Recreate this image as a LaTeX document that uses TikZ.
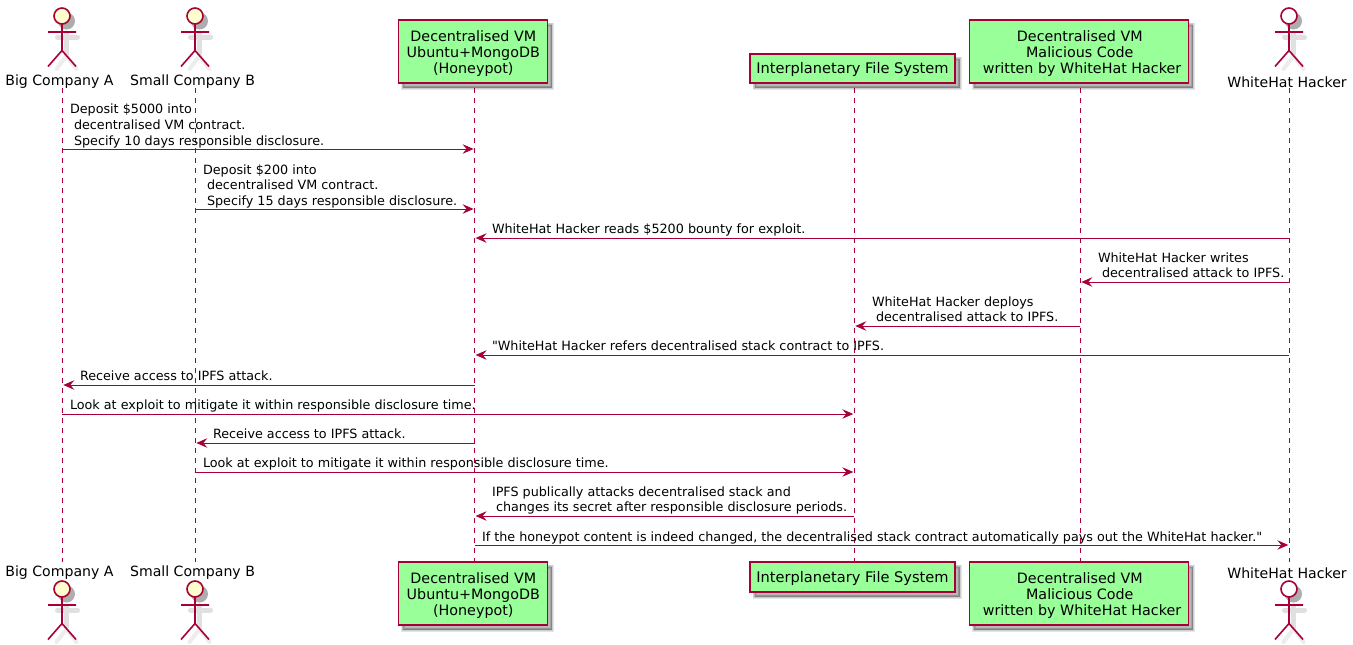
\documentclass[tikz,border=0pt]{standalone}
\usepackage{fontspec}
\setmainfont{DejaVu Sans}
\newfontfamily\rawfont{DejaVu Sans}
\usetikzlibrary{arrows.meta}
\definecolor{pu}{HTML}{A80036}
\definecolor{partfill}{HTML}{99FF99}
\definecolor{headfill}{HTML}{FEFECE}
\definecolor{shade}{HTML}{E0E0E0}
\definecolor{shadelight}{HTML}{EDEDED}
\tikzset{
  x=1pt,y=-1pt,
  lifeline/.style={draw=pu,line width=0.9pt,dash pattern=on 5pt off 5pt},
  msg/.style={draw=pu,line width=0.9pt,-{Stealth[length=11pt,width=9.5pt,inset=4pt,fill=pu]}},
  msgtext/.style={anchor=base west,inner sep=0pt,outer sep=0pt,font=\fontsize{12.75}{13}\selectfont,text=black},
  parttext/.style={anchor=center,inner sep=0pt,outer sep=0pt,font=\fontsize{14.1}{14.1}\selectfont,text=black},
  boxtext/.style={anchor=center,inner sep=0pt,outer sep=0pt,align=center,font=\fontsize{14.3}{16.2}\selectfont,text=black},
  softshadow/.style={preaction={draw=black,fill=black,draw opacity=#1,fill opacity=#1,line width=4pt,transform canvas={shift={(4.5pt,-4.5pt)}}},
                     preaction={draw=black,fill=black,draw opacity=#1,fill opacity=#1,line width=2.5pt,transform canvas={shift={(4.5pt,-4.5pt)}}},
                     preaction={draw=black,fill=black,draw opacity=#1,fill opacity=#1,line width=1pt,transform canvas={shift={(4.5pt,-4.5pt)}}}},
  partbox/.style={draw=pu,fill=partfill,line width=1.5pt,inner sep=0pt,outer sep=0pt,softshadow=0.10},
  actorline/.style={draw=pu,line width=1.6pt},
  actorshade/.style={draw=shade,line width=5pt,line cap=round},
  legshade/.style={draw=shadelight,line width=4pt,line cap=round},
}
% name, x, head centre y, head fill
\newcommand{\stick}[4]{%
  \begin{scope}[shift={(#2+4.5,#3+5)}]
    \draw[legshade] (-10,48) -- (0,35) -- (10,48);
    \draw[actorshade] (0,12) -- (0,33) (-9,16) -- (11,16);
    \fill[black!32] (0,0) circle[radius=8.5];
  \end{scope}
  \begin{scope}[shift={(#2,#3)}]
    \node[draw=pu,fill=#4,line width=1.6pt,circle,minimum size=16pt,inner sep=0pt,outer sep=0pt] (#1) at (0,0) {};
    \draw[actorline] (#1.south) -- (0,34.5) (-14,16) -- (14,16) (-14,50.5) -- (0,34.5) -- (14,50.5);
  \end{scope}}
\begin{document}
\begin{tikzpicture}
\useasboundingbox (0,0) rectangle (1353,645);
\fill[white] (0,0) rectangle (1353,645);
% actors (under the lifelines)
\stick{aH}{62}{16}{headfill}
\stick{bH}{195}{16}{headfill}
\stick{fH}{1289}{16}{white}
\stick{aF}{62}{589}{headfill}
\stick{bF}{195}{589}{headfill}
\stick{fF}{1289}{589}{white}
% lifeline ends
\foreach \n/\x in {a/62.3,b/195.3,c/474.6,d/854.3,e/1080.3,f/1289.3}{
  \coordinate (\n T) at (\x,88);
  \coordinate (\n B) at (\x,562);
  \draw[lifeline] (\n T) -- (\n B);
}
\node[parttext] (aL) at (59.5,82) {Big Company A};
\node[parttext] (bL) at (192.5,82) {Small Company B};
\node[parttext] (fL) at (1287,82) {WhiteHat Hacker};
\node[parttext] (aM) at (59.5,573) {Big Company A};
\node[parttext] (bM) at (192.5,573) {Small Company B};
\node[parttext] (fM) at (1287,573) {WhiteHat Hacker};
% participants
\foreach \n/\y in {t/51.5,u/593.5}{
  \node[partbox,minimum width=149pt,minimum height=63pt] (c\n) at (472.8,\y) {};
  \node[boxtext] (cx\n) at ([xshift=0.5pt,yshift=-2pt]c\n.center) {Decentralised VM\\Ubuntu+MongoDB\\(Honeypot)};
  \node[partbox,minimum width=219pt,minimum height=63pt] (e\n) at (1078.8,\y) {};
  \node[boxtext] (ex\n) at ([xshift=1pt,yshift=-2pt]e\n.center) {Decentralised VM\\Malicious Code\\\ written by WhiteHat Hacker};
}
\node[partbox,minimum width=205pt,minimum height=29pt] (dt) at (852.5,68.5) {};
\node[partbox,minimum width=205pt,minimum height=30pt] (du) at (852.5,577) {};
\node[boxtext,font=\fontsize{14.6}{16}\selectfont] (dxt) at ([yshift=-0.5pt]dt.center) {Interplanetary File System};
\node[boxtext,font=\fontsize{14.6}{16}\selectfont] (dxu) at ([yshift=-1pt]du.center) {Interplanetary File System};
% messages
\draw[msg] (aT |- 0,149) -- ([xshift=-1pt]cT |- 0,149);
\draw[msg] (bT |- 0,209) -- ([xshift=-1pt]cT |- 0,209);
\draw[msg] (fT |- 0,238) -- ([xshift=1pt]cT |- 0,238);
\draw[msg] (fT |- 0,282) -- ([xshift=1pt]eT |- 0,282);
\draw[msg] (eT |- 0,326) -- ([xshift=1pt]dT |- 0,326);
\draw[msg] (fT |- 0,355) -- ([xshift=1pt]cT |- 0,355);
\draw[msg] (cT |- 0,385) -- ([xshift=1pt]aT |- 0,385);
\draw[msg] (aT |- 0,414) -- ([xshift=-1pt]dT |- 0,414);
\draw[msg] (cT |- 0,443) -- ([xshift=1pt]bT |- 0,443);
\draw[msg] (bT |- 0,472) -- ([xshift=-1pt]dT |- 0,472);
\draw[msg] (dT |- 0,516) -- ([xshift=1pt]cT |- 0,516);
\draw[msg] (cT |- 0,545) -- ([xshift=-1pt]fT |- 0,545);
% message labels
\node[msgtext] at (70,113) {Deposit \$5000 into};
\node[msgtext] at (74,129) {decentralised VM contract.};
\node[msgtext] at (74,145) {Specify 10 days responsible disclosure.};
\node[msgtext] at (203,174) {Deposit \$200 into};
\node[msgtext] at (207,189) {decentralised VM contract.};
\node[msgtext] at (207,205) {Specify 15 days responsible disclosure.};
\node[msgtext] at (492,233) {WhiteHat Hacker reads \$5200 bounty for exploit.};
\node[msgtext] at (1098,262) {WhiteHat Hacker writes};
\node[msgtext] at (1102,277) {decentralised attack to IPFS.};
\node[msgtext] at (872,306) {WhiteHat Hacker deploys};
\node[msgtext] at (876,321) {decentralised attack to IPFS.};
\node[msgtext] at (492,350) {{\rawfont "}WhiteHat Hacker refers decentralised stack contract to IPFS.};
\node[msgtext] at (80,380) {Receive access to IPFS attack.};
\node[msgtext] at (70,409) {Look at exploit to mitigate it within responsible disclosure time.};
\node[msgtext] at (213,438) {Receive access to IPFS attack.};
\node[msgtext] at (203,467) {Look at exploit to mitigate it within responsible disclosure time.};
\node[msgtext] at (492,496) {IPFS publically attacks decentralised stack and};
\node[msgtext] at (496,511) {changes its secret after responsible disclosure periods.};
\node[msgtext] at (482,541) {If the honeypot content is indeed changed, the decentralised stack contract automatically pays out the WhiteHat hacker.{\rawfont "}};
\end{tikzpicture}
\end{document}
